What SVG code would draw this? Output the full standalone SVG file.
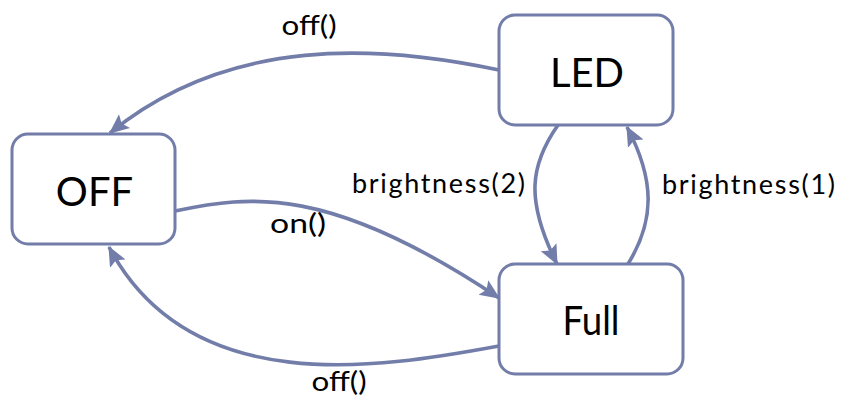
<svg xmlns="http://www.w3.org/2000/svg" width="842" height="401" viewBox="0 0 842 401">
  <style>
    .state rect { fill: #ffffff; stroke: #737da9; stroke-width: 3; }
    .state text { font-family: Lato, "Liberation Sans", sans-serif; font-size: 40px; fill: #000000; text-anchor: middle; }
    .edge { fill: none; stroke: #737da9; stroke-width: 3.6; }
    .label { font-family: Lato, "Liberation Sans", sans-serif; font-size: 27px; fill: #000000; text-anchor: middle; }
  </style>
  <defs>
    <marker id="arrow" markerUnits="userSpaceOnUse" markerWidth="20" markerHeight="20" viewBox="0 -8 16 16" refX="15" refY="0" orient="auto">
      <path d="M0,-7 L16,0 L0,7 L3,0 z" fill="#737da9"/>
    </marker>
  </defs>
  <rect width="842" height="401" fill="#ffffff"/>

  <!-- transitions -->
  <g id="edges">
    <path class="edge" d="M499,70 C380,45 230,35 110,133" marker-end="url(#arrow)"/>
    <path class="edge" d="M175,211 C250,195 330,185 499,298" marker-end="url(#arrow)"/>
    <path class="edge" d="M499,346 C380,368 190,400 109,247" marker-end="url(#arrow)"/>
    <path class="edge" d="M558,125 C530,165 525,200 557,264" marker-end="url(#arrow)"/>
    <path class="edge" d="M628,264 C655,220 655,180 627,127" marker-end="url(#arrow)"/>
    <text class="label" x="309" y="35" textLength="55" lengthAdjust="spacingAndGlyphs">off()</text>
    <text class="label" x="298" y="233" textLength="56" lengthAdjust="spacingAndGlyphs">on()</text>
    <text class="label" x="339" y="391" textLength="55" lengthAdjust="spacingAndGlyphs">off()</text>
    <text class="label" x="438.5" y="193" textLength="173" lengthAdjust="spacing">brightness(2)</text>
    <text class="label" x="748.5" y="194" textLength="173" lengthAdjust="spacing">brightness(1)</text>
  </g>

  <!-- states -->
  <g id="state-off" class="state">
    <rect x="12" y="134" width="163" height="110" rx="16"/>
    <text x="94.5" y="206">OFF</text>
  </g>
  <g id="state-led" class="state">
    <rect x="499" y="15" width="174" height="110" rx="16"/>
    <text x="587" y="87">LED</text>
  </g>
  <g id="state-full" class="state">
    <rect x="499" y="264" width="184" height="110" rx="16"/>
    <text x="591" y="335" textLength="57" lengthAdjust="spacingAndGlyphs">Full</text>
  </g>
</svg>
